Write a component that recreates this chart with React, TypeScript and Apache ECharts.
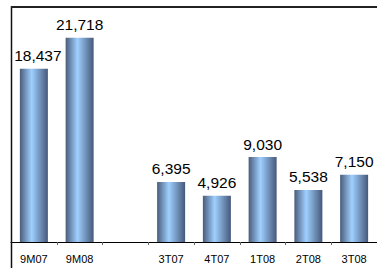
import React, { useEffect, useRef } from "react";
import * as echarts from "echarts";

const categories: string[] = ["9M07", "9M08", "", "3T07", "4T07", "1T08", "2T08", "3T08"];
const values: (number | null)[] = [18437, 21718, null, 6395, 4926, 9030, 5538, 7150];
const labelOffsets: number[][] = [[4, 0], [0, 0], [0, 0], [0, 0], [0, 0], [0, 0], [0, 0], [0, 0]];
const yMax = 25000;

export default function App() {
  const ref = useRef<HTMLDivElement>(null);
  useEffect(() => {
    if (!ref.current) return;
    const chart = echarts.init(ref.current, null, { renderer: "svg" });
    const grad = new echarts.graphic.LinearGradient(0, 0, 1, 0, [
      { offset: 0, color: "#4a5c7a" },
      { offset: 0.42, color: "#9fd0ff" },
      { offset: 1, color: "#46587a" },
    ]);
    chart.setOption({
      animation: false,
      backgroundColor: "#ffffff",
      grid: { left: 11, top: 7, width: 370, height: 235, containLabel: false },
      xAxis: {
        type: "category",
        data: categories,
        axisLine: { lineStyle: { color: "#000", width: 1 } },
        axisTick: { show: true, length: 3, lineStyle: { color: "#666" } },
        axisLabel: {
          interval: 0,
          margin: 11,
          fontSize: 11,
          color: "#000",
          fontFamily: "Liberation Sans, Arial, sans-serif",
        },
      },
      yAxis: {
        type: "value",
        min: 0,
        max: yMax,
        show: false,
        splitLine: { show: false },
      },
      series: [
        {
          type: "bar",
          barWidth: 28,
          data: values.map((v, i) => ({
            value: v,
            label: { offset: labelOffsets[i] },
          })),
          itemStyle: { color: grad },
          label: {
            show: true,
            position: "top",
            distance: 5,
            fontSize: 15.5,
            color: "#000",
            fontFamily: "Liberation Sans, Arial, sans-serif",
            formatter: (p: any) =>
              p.value == null ? "" : Number(p.value).toLocaleString("en-US"),
          },
        },
      ],
      graphic: [
        {
          type: "line",
          shape: { x1: 11.5, y1: 6, x2: 11.5, y2: 270 },
          style: { stroke: "#111", lineWidth: 1.5 },
          z: 100,
        },
        {
          type: "line",
          shape: { x1: 11, y1: 7, x2: 380, y2: 7 },
          style: { stroke: "#222", lineWidth: 2 },
          z: 100,
        },
      ],
    });
    return () => chart.dispose();
  }, []);
  return (
    <div
      ref={ref}
      style={{ position: "fixed", left: 0, top: 0, width: 377, height: 268 }}
    />
  );
}
